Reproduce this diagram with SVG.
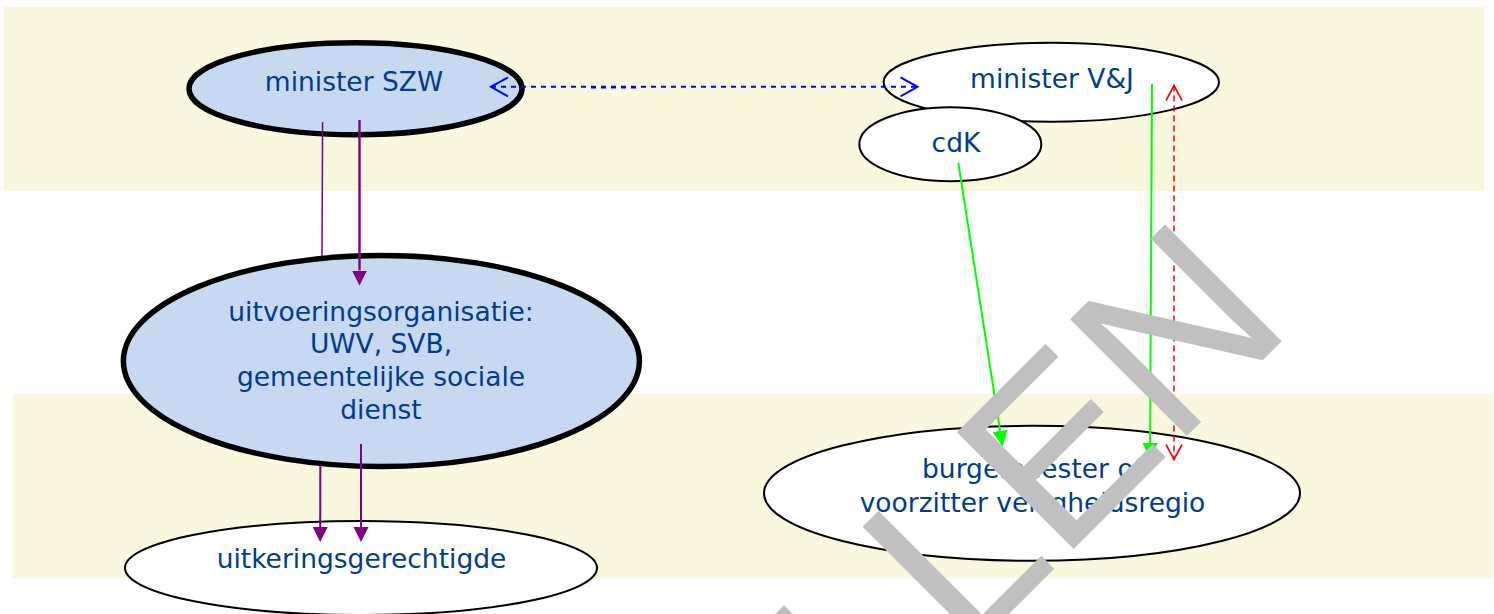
<svg xmlns="http://www.w3.org/2000/svg" width="1494" height="614" viewBox="0 0 1494 614">
  <style>
    .band { fill: #f9f7de; }
    .node-blue { fill: #c6d9f0; stroke: #000; stroke-width: 5.5; }
    .node-white { fill: #fff; stroke: #000; stroke-width: 2; }
    .label { font-family: "DejaVu Sans", "Liberation Sans", sans-serif; font-size: 26.5px; fill: #003d8c; text-anchor: middle; }
    .purple { stroke: #800080; fill: none; }
    .green { stroke: #00ff00; stroke-width: 2; fill: none; }
    .blue { stroke: #0000ff; stroke-width: 2; fill: none; stroke-dasharray: 5 5; }
    .red { stroke: #ff0000; stroke-width: 1.5; fill: none; stroke-dasharray: 6 4; }
    .watermark { font-family: "Liberation Sans", Arial, sans-serif; font-size: 240px; fill: #c0c0c0; }
  </style>
  <defs>
    <marker id="headPurple" markerUnits="userSpaceOnUse" viewBox="0 -8 16 16" refX="0" refY="0" markerWidth="16" markerHeight="16" orient="auto">
      <path d="M0,-7.5 L15,0 L0,7.5 Z" fill="#800080"/>
    </marker>
    <marker id="headGreen" markerUnits="userSpaceOnUse" viewBox="0 -8 17 16" refX="0" refY="0" markerWidth="17" markerHeight="16" orient="auto">
      <path d="M0,-7.5 L16,0 L0,7.5 Z" fill="#00ff00"/>
    </marker>
    <marker id="openBlue" markerUnits="userSpaceOnUse" viewBox="-20 -12 24 24" refX="0" refY="0" markerWidth="24" markerHeight="24" orient="auto-start-reverse" overflow="visible">
      <path d="M-17,-9.5 L0,0 L-17,9.5" fill="none" stroke="#0000ff" stroke-width="2"/>
    </marker>
    <marker id="openRed" markerUnits="userSpaceOnUse" viewBox="-18 -10 20 20" refX="0" refY="0" markerWidth="20" markerHeight="20" orient="auto-start-reverse" overflow="visible">
      <path d="M-15,-8 L0,0 L-15,8" fill="none" stroke="#ff0000" stroke-width="1.6"/>
    </marker>
  </defs>

  <g id="bands">
    <rect class="band" x="4" y="7" width="1480" height="184"/>
    <rect class="band" x="13" y="394" width="1480" height="184"/>
  </g>

  <g id="node-minister-szw">
    <ellipse class="node-blue" cx="355.5" cy="88.7" rx="166.5" ry="46"/>
    <text class="label" x="354" y="91">minister SZW</text>
  </g>

  <g id="node-uitkeringsgerechtigde">
    <ellipse class="node-white" cx="361" cy="568" rx="236" ry="47"/>
    <text class="label" x="361.5" y="568">uitkeringsgerechtigde</text>
  </g>

  <g id="node-uitvoeringsorganisatie">
    <ellipse class="node-blue" cx="381.4" cy="361" rx="258" ry="105.5"/>
    <text class="label" x="381" y="321">uitvoeringsorganisatie:</text>
    <text class="label" x="381" y="353">UWV, SVB,</text>
    <text class="label" x="381" y="386">gemeentelijke sociale</text>
    <text class="label" x="381" y="418.5">dienst</text>
  </g>

  <g id="node-minister-vj">
    <ellipse class="node-white" cx="1051.3" cy="82.2" rx="167.7" ry="39.5"/>
    <text class="label" x="1052" y="88.3">minister V&amp;J</text>
  </g>

  <g id="node-cdk">
    <ellipse class="node-white" cx="950.3" cy="144.2" rx="91" ry="37"/>
    <text class="label" x="956" y="151.7">cdK</text>
  </g>

  <g id="node-burgemeester">
    <ellipse class="node-white" cx="1032" cy="493.3" rx="268" ry="67.5"/>
    <text class="label" x="1032.5" y="478">burgemeester of</text>
    <text class="label" x="1032.5" y="511.7">voorzitter veiligheidsregio</text>
  </g>

  <g id="connectors">
    <!-- minister SZW to uitvoeringsorganisatie -->
    <line class="purple" x1="322.6" y1="122" x2="322" y2="256" stroke-width="1.5"/>
    <line class="purple" x1="359.5" y1="120" x2="359.5" y2="270.5" stroke-width="2.4" marker-end="url(#headPurple)"/>
    <!-- uitvoeringsorganisatie to uitkeringsgerechtigde -->
    <line class="purple" x1="320.3" y1="466" x2="320.2" y2="527" stroke-width="2" marker-end="url(#headPurple)"/>
    <line class="purple" x1="361" y1="444" x2="361" y2="527" stroke-width="2" marker-end="url(#headPurple)"/>
    <!-- minister SZW <-> minister V&J -->
    <line class="blue" x1="491" y1="86.8" x2="917.5" y2="86.8" marker-start="url(#openBlue)" marker-end="url(#openBlue)"/>
    <line class="blue" x1="591" y1="87.6" x2="641" y2="87.6"/>
    <!-- cdK to burgemeester -->
    <line class="green" x1="958.3" y1="162.7" x2="1000.1" y2="430.9" marker-end="url(#headGreen)"/>
    <!-- minister V&J to burgemeester -->
    <line class="green" x1="1152" y1="84" x2="1150.1" y2="443" marker-end="url(#headGreen)"/>
    <!-- minister V&J <-> burgemeester -->
    <line class="red" x1="1174" y1="85.5" x2="1174" y2="459.5" marker-start="url(#openRed)" marker-end="url(#openRed)"/>
  </g>

  <g id="watermark">
    <text class="watermark" transform="translate(311.4,1311.5) rotate(-45)" x="0" y="0">VERVALLEN</text>
  </g>
</svg>
